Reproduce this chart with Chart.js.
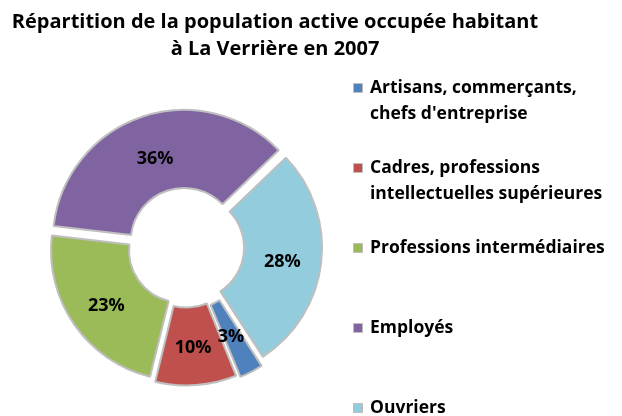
<!DOCTYPE html>
<html lang="fr">
<head>
<meta charset="utf-8">
<script src="https://cdn.jsdelivr.net/npm/chart.js@4/dist/chart.umd.min.js"></script>
<style>
  html, body { margin: 0; background: #fff; }
  #wrap { width: 622px; height: 416px; position: relative; }
</style>
</head>
<body>
<div id="wrap"><canvas id="popChart"></canvas></div>
<script>
// Data
const categories = [
    "Artisans, commerçants,\nchefs d'entreprise",
    'Cadres, professions\nintellectuelles supérieures',
    'Professions intermédiaires',
    'Employés',
    'Ouvriers'
];
const shares = [3, 10, 23, 36, 28];
const sliceColors = ['#4f81bd', '#c0504d', '#9bbb59', '#8064a2', '#93cddd'];
const titleLines = ['Répartition de la population active occupée habitant', 'à La Verrière en 2007'];

const FONT = '"Open Sans", Lato, sans-serif';

// title + legend drawn on the canvas, Excel style
const sideText = {
    id: 'sideText',
    afterDraw(chart) {
        const ctx = chart.ctx;
        ctx.save();
        ctx.fillStyle = '#000';
        ctx.textBaseline = 'middle';

        ctx.font = 'bold 20px ' + FONT;
        ctx.textAlign = 'center';
        titleLines.forEach((line, i) => ctx.fillText(line, 275, 22 + i * 27));

        ctx.font = 'bold 17.5px ' + FONT;
        ctx.textAlign = 'left';
        categories.forEach((label, i) => {
            const y = 88 + i * 80;
            ctx.fillStyle = sliceColors[i];
            ctx.fillRect(353, y - 5, 10, 10);
            ctx.strokeStyle = '#bfbfbf';
            ctx.lineWidth = 1;
            ctx.strokeRect(353.5, y - 4.5, 9, 9);
            ctx.fillStyle = '#000';
            label.split('\n').forEach((part, j) => ctx.fillText(part, 370, y + j * 26));
        });
        ctx.restore();
    }
};

// percentage in the middle of each (exploded) ring segment
const percentLabels = {
    id: 'percentLabels',
    afterDatasetsDraw(chart) {
        const ctx = chart.ctx;
        const meta = chart.getDatasetMeta(0);
        const total = shares.reduce((a, b) => a + b, 0);
        ctx.save();
        ctx.font = 'bold 18px ' + FONT;
        ctx.fillStyle = '#000';
        ctx.textAlign = 'center';
        ctx.textBaseline = 'alphabetic';
        meta.data.forEach((arc, i) => {
            const mid = (arc.startAngle + arc.endAngle) / 2;
            const r = (arc.innerRadius + arc.outerRadius) / 2 + (arc.options.offset || 0) / 4;
            const text = Math.round(shares[i] / total * 100) + '%';
            ctx.fillText(text, arc.x + Math.cos(mid) * r, arc.y + Math.sin(mid) * r + 9);
        });
        ctx.restore();
    }
};

const ctx = document.getElementById('popChart').getContext('2d');
new Chart(ctx, {
    type: 'doughnut',
    data: {
        labels: categories,
        datasets: [{
            data: shares,
            backgroundColor: sliceColors,
            borderColor: '#bfbfbf',
            borderWidth: 2,
            offset: 24
        }]
    },
    options: {
        responsive: true,
        maintainAspectRatio: false,
        animation: false,
        events: [],
        rotation: 147,
        cutout: '40%',
        radius: 130,
        layout: {
            padding: { left: 0, right: 250, top: 79, bottom: 1 }
        },
        plugins: {
            legend: { display: false },
            title: { display: false },
            tooltip: { enabled: false }
        }
    },
    plugins: [percentLabels, sideText]
});
</script>
</body>
</html>
